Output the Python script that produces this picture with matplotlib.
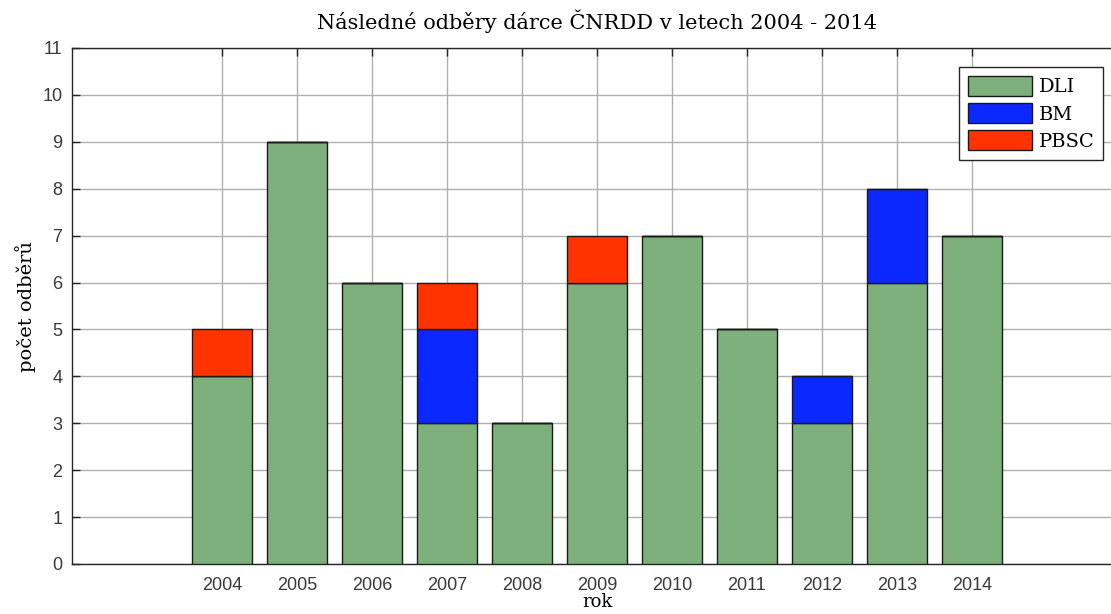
import numpy as np
import matplotlib
matplotlib.use("Agg")
import matplotlib.pyplot as plt

years = [2004, 2005, 2006, 2007, 2008, 2009, 2010, 2011, 2012, 2013, 2014]
dli = [4, 9, 6, 3, 3, 6, 7, 5, 3, 6, 7]
bm = [0, 0, 0, 2, 0, 0, 0, 0, 1, 2, 0]
pbsc = [1, 0, 0, 1, 0, 1, 0, 0, 0, 0, 0]
labels = ["DLI", "BM", "PBSC"]
colors = ["#7eb07c", "#0a28ff", "#ff3300"]

W, H = 1111, 614
fig = plt.figure(figsize=(W / 100, H / 100), dpi=100)
# axes run a bit past the right edge, as in the reference
ax = fig.add_axes([72 / W, 50 / H, 1050 / W, 516 / H])

x = np.array(years)
bottom = np.zeros(len(years))
for vals, lab, col in zip([dli, bm, pbsc], labels, colors):
    vals = np.array(vals)
    ax.bar(x, vals, width=0.8, bottom=bottom, color=col, edgecolor="#1a1a1a",
           linewidth=1.0, label=lab, zorder=3)
    bottom += vals

ax.set_xlim(2002, 2016)
ax.set_ylim(0, 11)
ax.set_xticks(years)
ax.set_yticks(range(0, 12))
ax.grid(True, color="#b0b0b0", linewidth=1.0, zorder=0)
ax.set_axisbelow(True)
ax.tick_params(direction="in", length=6, width=1, color="#262626",
               labelcolor="#3a3a3a", top=True, labelsize=13)
ax.tick_params(axis="x", pad=9)
ax.tick_params(axis="y", pad=7)
for lbl in ax.get_xticklabels() + ax.get_yticklabels():
    lbl.set_fontfamily("Liberation Sans")
for s in ax.spines.values():
    s.set_color("#262626")
    s.set_linewidth(1.0)

serif = "DejaVu Serif"
ax.set_title("Následné odběry dárce ČNRDD v letech 2004 - 2014",
             fontfamily=serif, fontsize=15, pad=14)
ax.set_xlabel("rok", fontfamily=serif, fontsize=13)
ax.xaxis.set_label_coords(0.5, -29 / 516)
ax.set_ylabel("počet odběrů", fontfamily=serif, fontsize=14)
ax.yaxis.set_label_coords(-36 / 1050, 0.5)

leg = ax.legend(loc="upper right", bbox_to_anchor=((1103 - 72) / 1050, 1 - 19 / 516),
                prop={"family": serif, "size": 14}, fancybox=False,
                edgecolor="#262626", framealpha=1, handlelength=3.3,
                handleheight=1.2, labelspacing=0.35, borderpad=0.45,
                handletextpad=0.35, borderaxespad=0)
leg.get_frame().set_linewidth(1.0)

fig.savefig("out.png", dpi=100)
